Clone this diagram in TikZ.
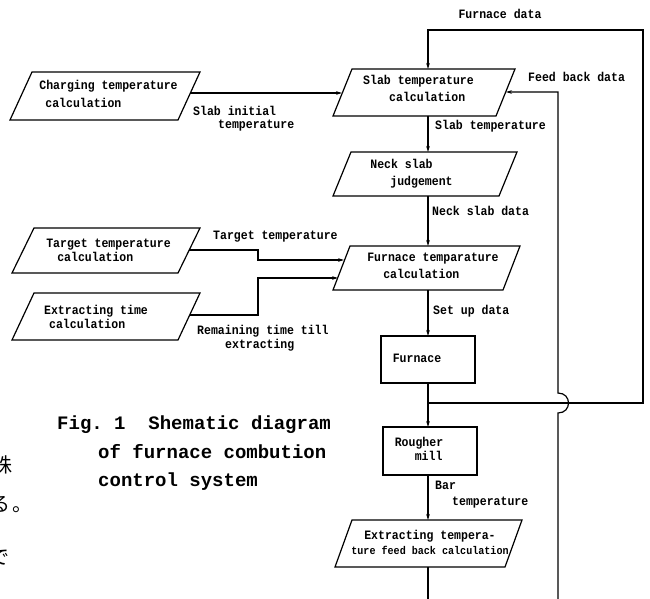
\documentclass[tikz,border=0pt]{standalone}
\usepackage{fontspec}
\setmainfont{Liberation Mono}[FakeStretch=0.9]
\newfontfamily\capfont{Liberation Mono}
\newfontfamily\jpfont{Noto Sans CJK JP}
\usetikzlibrary{arrows.meta,calc}
\newcommand\drawpara[2]{\draw[boxline] ($(#1.north west)+(#2,0)$) -- (#1.north east) -- ($(#1.south east)+(-#2,0)$) -- (#1.south west) -- cycle;}
\begin{document}
\begin{tikzpicture}[x=1pt,y=-1pt,
  bnd/.style={draw=none,inner sep=0pt,outer sep=0pt},
  boxline/.style={line width=1.2pt,line join=miter},
  rbox/.style={draw,line width=1.2pt,inner sep=0pt,outer sep=0pt},
  txt/.style={inner sep=0pt,align=left,font=\bfseries\fontsize{12.8}{17}\selectfont},
  lbl/.style={inner sep=0pt,anchor=west,font=\bfseries\fontsize{12.8}{13}\selectfont},
  captxt/.style={inner sep=0pt,anchor=base west,font=\capfont\bfseries\fontsize{19}{22}\selectfont},
  jp/.style={inner sep=0pt,anchor=west,font=\jpfont\fontsize{20}{20}\selectfont},
  conn/.style={line width=1.2pt},
  arr/.style={line width=1.2pt,-{Stealth[length=6pt,width=3.6pt]}}]
\fill[white] (0,0) rectangle (650,599);
\useasboundingbox (0,0) rectangle (650,599);

% box outlines (bounding nodes)
\node[bnd,minimum width=190pt,minimum height=48pt] (chg) at (105,96) {};
\node[bnd,minimum width=182pt,minimum height=47pt] (slab) at (424,92.5) {};
\node[bnd,minimum width=184pt,minimum height=44pt] (neck) at (425,174) {};
\node[bnd,minimum width=187pt,minimum height=44pt] (ftc) at (426.5,268) {};
\node[bnd,minimum width=188pt,minimum height=45pt] (tgt) at (106,250.5) {};
\node[bnd,minimum width=188pt,minimum height=47pt] (ext) at (106,316.5) {};
\node[rbox,minimum width=94pt,minimum height=47pt] (fur) at (428,359.5) {};
\node[rbox,minimum width=94pt,minimum height=48pt] (rou) at (430,451) {};
\node[bnd,minimum width=187pt,minimum height=47pt] (etf) at (428.5,543.5) {};
\drawpara{chg}{22}
\drawpara{slab}{19}
\drawpara{neck}{18}
\drawpara{ftc}{17}
\drawpara{tgt}{22}
\drawpara{ext}{22}
\drawpara{etf}{17}

% box texts
\node[txt,font=\bfseries\fontsize{12.8}{18}\selectfont] (chgT) at (108.5,94) {Charging temperature\\\hspace*{6pt}calculation};
\node[txt] (slabT) at (418.5,88.5) {Slab temperature\\\hspace*{26pt}calculation};
\node[txt] (neckT) at (411.5,173.5) {Neck slab\\\hspace*{20pt}judgement};
\node[txt] (ftcT) at (433,265.5) {Furnace temparature\\\hspace*{16pt}calculation};
\node[txt,font=\bfseries\fontsize{12.8}{14}\selectfont] (tgtT) at (108.5,250) {Target temperature\\\hspace*{11pt}calculation};
\node[txt,font=\bfseries\fontsize{12.8}{14}\selectfont] (extT) at (96,316.5) {Extracting time\\\hspace*{5pt}calculation};
\node[txt] (furT) at (417,358) {Furnace};
\node[txt,font=\bfseries\fontsize{12.8}{14}\selectfont] (rouT) at (419,448.5) {Rougher\\\hspace*{20pt}mill};
\node[txt,align=center,font=\bfseries\fontsize{12.8}{15}\selectfont] (etfT) at (430,542.5) {Extracting tempera-\\{\fontsize{11.2}{15}\selectfont ture feed back calculation}};

% connector coordinates
\coordinate (ax) at (428,0);
\coordinate (c1) at (190,93);
\coordinate (c2) at (342,93);
\coordinate (t1) at (189,250);
\coordinate (t2) at (344,260);
\coordinate (e1) at (190,315);
\coordinate (e2) at (338,278);
\coordinate (jn) at (428,403);
\coordinate (fdR) at (643,403);
\coordinate (fdT) at (643,30);
\coordinate (fbB) at (558,620);
\coordinate (fbE) at (506,92);
\coordinate (outB) at (428,620);

% connectors
\draw[arr] (c1) -- (c2);
\draw[arr] (slab.south -| ax) -- (neck.north -| ax);
\draw[arr] (neck.south -| ax) -- (ftc.north -| ax);
\draw[arr] (ftc.south -| ax) -- (fur.north -| ax);
\draw[conn] (fur.south -| ax) -- (jn);
\draw[arr] (jn) -- (rou.north -| ax);
\draw[arr] (rou.south -| ax) -- (etf.north -| ax);
\draw[conn] (etf.south -| ax) -- (outB);
\draw[arr] (t1) -- (258,250) -- (258,260) -- (t2);
\draw[arr] (e1) -- (258,315) -- (258,278) -- (e2);
\draw[arr] (jn) -- (fdR) -- (fdT) -- (fdT -| ax) -- (slab.north -| ax);
\draw[arr] (fbB) -- (558,413) .. controls (572,413) and (572,393) .. (558,393) -- (558,92) -- (fbE);

% labels
\node[lbl] (l1) at (193,111) {Slab initial};
\node[lbl] (l2) at (218,126) {temperature};
\node[lbl] (l3) at (435,126) {Slab temperature};
\node[lbl] (l4) at (432,211) {Neck slab data};
\node[lbl] (l5) at (433,311) {Set up data};
\node[lbl] (l6) at (213,237) {Target temperature};
\node[lbl] (l7) at (197,331) {Remaining time till};
\node[lbl] (l8) at (225,345) {extracting};
\node[lbl] (l9) at (435,485) {Bar};
\node[lbl] (l10) at (452,503) {temperature};
\node[lbl,anchor=center] (l11) at (500,14) {Furnace data};
\node[lbl] (l12) at (528,77) {Feed back data};

% caption
\node[captxt] (cap1) at (57,429) {Fig.~1~~Shematic diagram};
\node[captxt] (cap2) at (98,458) {of furnace combution};
\node[captxt] (cap3) at (98,486) {control system};

% cut-off Japanese text at left edge (cut off in the reference too)
\node[jp] (j1) at (-8,465) {株};
\node[jp] (j2) at (-10,505) {る\hspace{2pt}。};
\node[jp] (j3) at (-11,558) {で};
\end{tikzpicture}
\end{document}
